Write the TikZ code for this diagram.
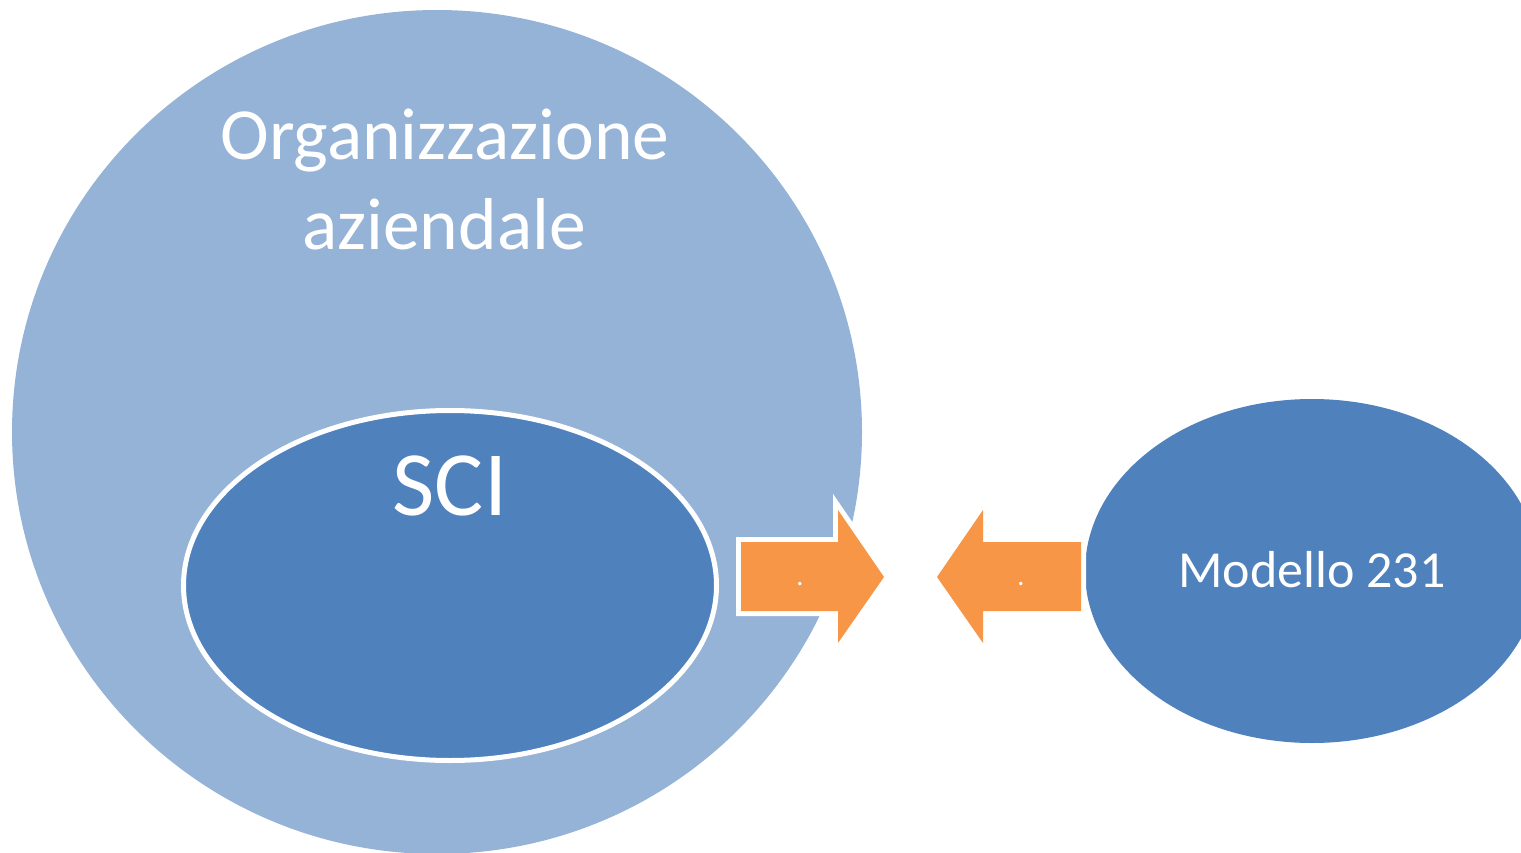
\documentclass[tikz,border=0pt]{standalone}
\usepackage{fontspec}
\setmainfont{Carlito}
\usetikzlibrary{shapes.geometric}
\definecolor{lightblue}{HTML}{95B3D7}
\definecolor{darkblue}{HTML}{4F81BD}
\definecolor{arroworange}{HTML}{F79646}
\tikzset{
  blob/.style={ellipse, inner sep=0pt},
  whitetext/.style={text=white, anchor=base, inner sep=0pt},
  arrowshape/.style={fill=arroworange, preaction={draw=white, line width=10pt, line join=miter}},
}
\begin{document}
\begin{tikzpicture}[x=1pt,y=-1pt]
\useasboundingbox (0,0) rectangle (1521,853);
\clip (0,0) rectangle (1521,853);
% big circle
\node[blob, fill=lightblue, minimum width=850pt, minimum height=844pt] (org) at (437,432) {};
\node[whitetext, font=\fontsize{73.5}{90}\selectfont] (orgt1) at (445,160) {Organizzazione};
\node[whitetext, font=\fontsize{73.5}{90}\selectfont] (orgt2) at (444,250) {aziendale};
% SCI ellipse
\node[blob, fill=darkblue, draw=white, line width=5pt, minimum width=533pt, minimum height=350pt] (sci) at (450,585.5) {};
\node[whitetext, font=\fontsize{92}{110}\selectfont] (scit) at (450,515) {SCI};
% Modello ellipse
\node[blob, fill=darkblue, minimum width=454pt, minimum height=344pt] (mod) at (1312,571) {};
\node[whitetext, font=\fontsize{52}{62}\selectfont] (modt) at (1312,587) {Modello 231};
% right arrow
\path[arrowshape] (741,542) -- (838,542) -- (838,510) -- (884,577) -- (838,643) -- (838,611) -- (741,611) -- cycle;
\node[whitetext, font=\fontsize{28}{30}\selectfont] (dotr) at (800,585) {.};
% left arrow
\path[arrowshape] (1081,542) -- (983,542) -- (983,510) -- (937,577) -- (983,643) -- (983,611) -- (1081,611) -- cycle;
\node[whitetext, font=\fontsize{28}{30}\selectfont] (dotl) at (1021,585) {.};
\end{tikzpicture}
\end{document}
